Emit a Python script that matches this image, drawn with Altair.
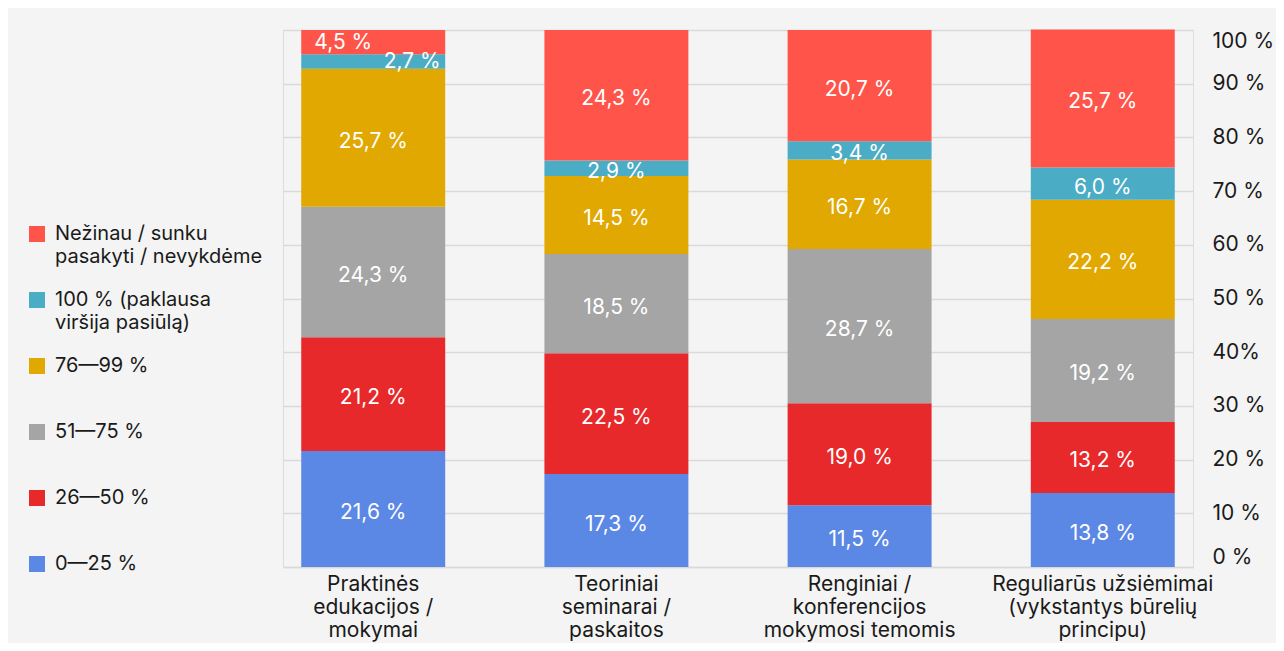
import altair as alt
import pandas as pd

categories = [
    "Praktinės\nedukacijos /\nmokymai",
    "Teoriniai\nseminarai /\npaskaitos",
    "Renginiai /\nkonferencijos\nmokymosi temomis",
    "Reguliarūs užsiėmimai\n(vykstantys būrelių\nprincipu)",
]
# stacking order: bottom -> top
series = [
    "0—25 %",
    "26—50 %",
    "51—75 %",
    "76—99 %",
    "100 % (paklausa\nviršija pasiūlą)",
    "Nežinau / sunku\npasakyti / nevykdėme",
]
colors = ["#5B87E5", "#E8292B", "#A5A5A5", "#E0A800", "#4BACC6", "#FF5449"]

v_0_25 = [21.6, 17.3, 11.5, 13.8]
v_26_50 = [21.2, 22.5, 19.0, 13.2]
v_51_75 = [24.3, 18.5, 28.7, 19.2]
v_76_99 = [25.7, 14.5, 16.7, 22.2]
v_100 = [2.7, 2.9, 3.4, 6.0]
v_nezinau = [4.5, 24.3, 20.7, 25.7]
values = [v_0_25, v_26_50, v_51_75, v_76_99, v_100, v_nezinau]

y_ticks = [0, 10, 20, 30, 40, 50, 60, 70, 80, 90, 100]

rows = []
for si, (s, vals) in enumerate(zip(series, values)):
    for ci, (c, v) in enumerate(zip(categories, vals)):
        rows.append({
            "cat": c, "ci": ci, "series": s, "idx": si, "value": v,
            "label": f"{v:.1f}".replace(".", ",") + " %",
        })
df = pd.DataFrame(rows)

legend_order = series[::-1]
legend_colors = colors[::-1]

FONT = "Inter"
TXT = "#1a1a1a"

base = alt.Chart(df).transform_stack(
    stack="value",
    groupby=["cat"],
    sort=[alt.SortField("idx", order="ascending")],
    as_=["y0", "y1"],
).transform_calculate(ymid="(datum.y0 + datum.y1) / 2")

x_enc = alt.X(
    "cat:N",
    sort=categories,
    title=None,
    scale=alt.Scale(paddingInner=0.408, paddingOuter=0.075),
    axis=alt.Axis(
        labelAngle=0,
        labelExpr="split(datum.label, '\\n')",
        labelFont=FONT,
        labelFontSize=21,
        labelLineHeight=23,
        labelColor=TXT,
        labelPadding=6,
        labelLimit=400,
        ticks=False,
        grid=False,
        domain=True,
        domainColor="#d9d9d9",
        domainWidth=1.5,
    ),
)

y_scale = alt.Scale(domain=[0, 100], nice=False, zero=True)

bars = base.mark_bar().encode(
    x=x_enc,
    y=alt.Y(
        "y0:Q",
        scale=y_scale,
        title=None,
        axis=alt.Axis(
            orient="right",
            values=y_ticks,
            labelExpr="datum.value == 40 ? '40%' : datum.value + ' %'",
            labelFont=FONT,
            labelFontSize=21,
            labelColor=TXT,
            labelPadding=19,
            labelFlush=True,
            ticks=False,
            domain=False,
            grid=True,
            gridColor="#d9d9d9",
            gridWidth=1.3,
        ),
    ),
    y2="y1:Q",
    color=alt.Color(
        "series:N",
        scale=alt.Scale(domain=legend_order, range=legend_colors),
        legend=alt.Legend(
            title=None,
            orient="none",
            legendX=-256,
            legendY=194,
            direction="vertical",
            symbolType="square",
            symbolSize=256,
            symbolStrokeWidth=0,
            labelFont=FONT,
            labelFontSize=20,
            labelColor=TXT,
            labelOffset=8,
            labelLimit=400,
            labelBaseline="middle",
            rowPadding=23,
            padding=0,
            labelExpr="split(datum.label + (indexof(datum.label, '\\n') < 0 ? '\\n' : ''), '\\n')",
        ),
    ),
)

text_main = base.transform_filter(
    "!(datum.ci == 0 && datum.idx >= 4)"
).mark_text(color="white", font=FONT, fontSize=21, baseline="middle", dy=4).encode(
    x=alt.X("cat:N", sort=categories),
    y=alt.Y("ymid:Q", scale=y_scale),
    text="label:N",
)

text_left = base.transform_filter(
    "datum.ci == 0 && datum.idx == 5"
).mark_text(color="white", font=FONT, fontSize=21, baseline="middle", dx=-30, dy=1).encode(
    x=alt.X("cat:N", sort=categories),
    y=alt.Y("ymid:Q", scale=y_scale),
    text="label:N",
)

text_right = base.transform_filter(
    "datum.ci == 0 && datum.idx == 4"
).mark_text(color="white", font=FONT, fontSize=21, baseline="middle", dx=39, dy=1).encode(
    x=alt.X("cat:N", sort=categories),
    y=alt.Y("ymid:Q", scale=y_scale),
    text="label:N",
)

chart = alt.layer(bars, text_main, text_left, text_right).properties(
    width=910,
    height=537,
    padding={"left": 275, "top": 22, "right": 83, "bottom": 76},
    autosize=alt.AutoSizeParams(type="none"),
    background="#f4f4f4",
).configure_view(stroke=None).configure(
    style={"guide-label": {"lineHeight": 23}}
)

chart.save("out.html", embed_options={"renderer": "svg", "actions": False})
